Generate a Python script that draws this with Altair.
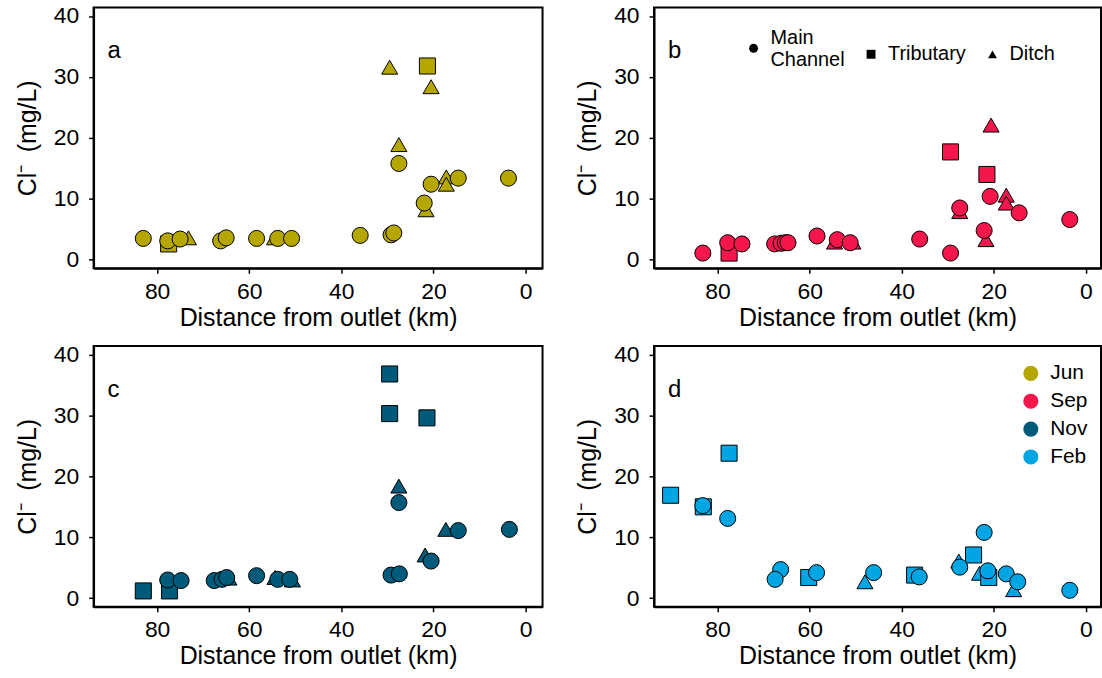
import altair as alt
import pandas as pd

months = ["Jun", "Sep", "Nov", "Feb"]
month_colors = ["#b5a600", "#f5164b", "#005a7a", "#00a5e3"]
types = ["Main Channel", "Tributary", "Ditch"]
type_shapes = ["circle", "square", "triangle-up"]
x_ticks = [80, 60, 40, 20, 0]
y_ticks = [0, 10, 20, 30, 40]
panel_letters = ["a", "b", "c", "d"]

# Jun
jun_main_km = [83.0, 77.7, 75.0, 66.2, 65.0, 58.4, 53.8, 50.8, 35.9, 29.2, 28.6, 27.5, 22.0, 20.5, 14.6, 3.7]
jun_main_cl = [3.5, 3.1, 3.4, 3.1, 3.6, 3.5, 3.5, 3.5, 4.0, 4.1, 4.4, 15.8, 9.3, 12.4, 13.4, 13.4]
jun_trib_km = [77.5, 21.3]
jun_trib_cl = [2.6, 31.8]
jun_ditch_km = [73.2, 54.5, 29.5, 27.5, 21.6, 20.5, 17.2, 17.2]
jun_ditch_cl = [3.6, 3.6, 31.6, 18.9, 8.2, 28.4, 13.6, 12.4]

# Sep
sep_main_km = [83.2, 77.8, 74.7, 67.6, 66.2, 65.3, 64.7, 58.4, 54.0, 51.2, 36.1, 29.4, 27.4, 22.1, 20.8, 14.5, 3.5]
sep_main_cl = [1.1, 2.8, 2.6, 2.6, 2.7, 2.8, 2.8, 3.9, 3.3, 2.8, 3.4, 1.1, 8.5, 4.8, 10.4, 7.7, 6.6]
sep_trib_km = [77.5, 29.4, 21.5]
sep_trib_cl = [1.1, 17.7, 14.0]
sep_ditch_km = [54.6, 50.6, 27.4, 21.7, 20.6, 17.3, 17.3]
sep_ditch_cl = [2.9, 2.9, 7.9, 3.3, 22.1, 10.6, 9.3]

# Nov
nov_main_km = [77.7, 74.8, 67.6, 65.9, 64.9, 58.4, 53.8, 51.2, 29.2, 27.4, 27.5, 20.5, 14.6, 3.5]
nov_main_cl = [3.0, 2.9, 2.9, 3.1, 3.4, 3.7, 3.1, 3.1, 3.8, 4.0, 15.7, 6.1, 11.1, 11.3]
nov_trib_km = [83.0, 77.3, 29.5, 29.5, 21.4]
nov_trib_cl = [1.2, 1.2, 36.8, 30.3, 29.6]
nov_ditch_km = [64.4, 54.4, 50.6, 27.5, 21.8, 17.3]
nov_ditch_cl = [3.3, 3.4, 3.0, 18.4, 7.1, 11.3]

# Feb
feb_main_km = [83.2, 77.8, 66.3, 67.5, 58.5, 46.1, 36.2, 27.4, 22.1, 21.3, 17.3, 14.8, 3.5]
feb_main_cl = [15.2, 13.1, 4.7, 3.1, 4.2, 4.2, 3.5, 5.1, 10.8, 4.5, 4.0, 2.7, 1.3]
feb_trib_km = [90.2, 83.1, 77.5, 60.2, 37.2, 24.4, 21.1]
feb_trib_cl = [16.9, 15.0, 23.8, 3.4, 3.8, 7.1, 3.4]
feb_ditch_km = [48.0, 27.6, 23.1, 15.7]
feb_ditch_cl = [2.7, 6.1, 4.1, 1.4]

series = {
    "Jun": [(jun_ditch_km, jun_ditch_cl, "Ditch"), (jun_trib_km, jun_trib_cl, "Tributary"), (jun_main_km, jun_main_cl, "Main Channel")],
    "Sep": [(sep_ditch_km, sep_ditch_cl, "Ditch"), (sep_trib_km, sep_trib_cl, "Tributary"), (sep_main_km, sep_main_cl, "Main Channel")],
    "Nov": [(nov_ditch_km, nov_ditch_cl, "Ditch"), (nov_trib_km, nov_trib_cl, "Tributary"), (nov_main_km, nov_main_cl, "Main Channel")],
    "Feb": [(feb_ditch_km, feb_ditch_cl, "Ditch"), (feb_trib_km, feb_trib_cl, "Tributary"), (feb_main_km, feb_main_cl, "Main Channel")],
}

rows = []
for m in months:
    for kms, cls, t in series[m]:
        for k, c in zip(kms, cls):
            rows.append({"month": m, "km": k, "cl": c, "type": t})
df = pd.DataFrame(rows)

FONT = "Liberation Sans"


def panel(idx):
    month = months[idx]
    col = idx % 2
    w = 451 if col == 0 else 449
    xdom = [93.8, -3.7] if col == 0 else [93.8, -3.28]
    d = df[df["month"] == month]

    if idx == 1:
        shape_legend = alt.Legend(
            orient="none", legendX=90, legendY=31, direction="horizontal", title=None,
            symbolFillColor="black", symbolStrokeColor="black", symbolStrokeWidth=0,
            symbolSize=80, labelFontSize=20, labelFont=FONT, labelColor="black",
            labelExpr="datum.label == 'Main Channel' ? ['Main', 'Channel'] : datum.label",
            labelBaseline={"expr": "datum.value === 'Main Channel' ? 'bottom' : 'middle'"},
            columnPadding=16, labelOffset=7, symbolOpacity=1,
        )
    else:
        shape_legend = None
    if idx == 3:
        color_legend = alt.Legend(
            orient="none", legendX=368, legendY=17, title=None, symbolType="circle",
            symbolSize=230, symbolStrokeWidth=0, labelFontSize=21, labelFont=FONT,
            labelColor="black", rowPadding=6, labelOffset=9, symbolOpacity=1,
        )
    else:
        color_legend = None

    pts = alt.Chart(d).mark_point(
        filled=True, size=260, stroke="black", strokeWidth=1, opacity=1
    ).encode(
        x=alt.X("km:Q", scale=alt.Scale(domain=xdom, nice=False, zero=False),
                axis=alt.Axis(values=x_ticks, title="Distance from outlet (km)", titlePadding=2, labelPadding=7)),
        y=alt.Y("cl:Q", scale=alt.Scale(domain=[-1.4, 41.4], nice=False, zero=False),
                axis=alt.Axis(values=y_ticks, title="Cl⁻\u2002(mg/L)", titlePadding=13, labelPadding=10)),
        shape=alt.Shape("type:N", scale=alt.Scale(domain=types, range=type_shapes), legend=shape_legend),
        color=alt.Color("month:N", scale=alt.Scale(domain=months, range=month_colors), legend=color_legend),
    )
    letter = alt.Chart(pd.DataFrame({"t": [panel_letters[idx]]})).mark_text(
        align="left", baseline="alphabetic", fontSize=24, font=FONT, color="black"
    ).encode(text="t:N", x=alt.value(14), y=alt.value(51))
    return alt.layer(pts, letter).properties(width=w, height=262)


chart = alt.concat(
    *[panel(i) for i in range(4)], columns=2, spacing={"column": 31, "row": 11}
).resolve_scale(
    color="independent", shape="independent"
).resolve_legend(
    color="independent", shape="independent"
).properties(
    padding={"left": 14, "top": 2, "right": 0, "bottom": 0}, background="white"
).configure_view(
    stroke="black", strokeWidth=2
).configure_axis(
    domainColor="black", domainWidth=2, tickColor="black", tickWidth=1.5, tickSize=5,
    labelFont=FONT, labelFontSize=23, labelColor="black",
    titleFont=FONT, titleFontSize=25, titleFontWeight="normal", titleColor="black", grid=False,
)

chart.save("out.html", embed_options={"renderer": "svg", "actions": False})
